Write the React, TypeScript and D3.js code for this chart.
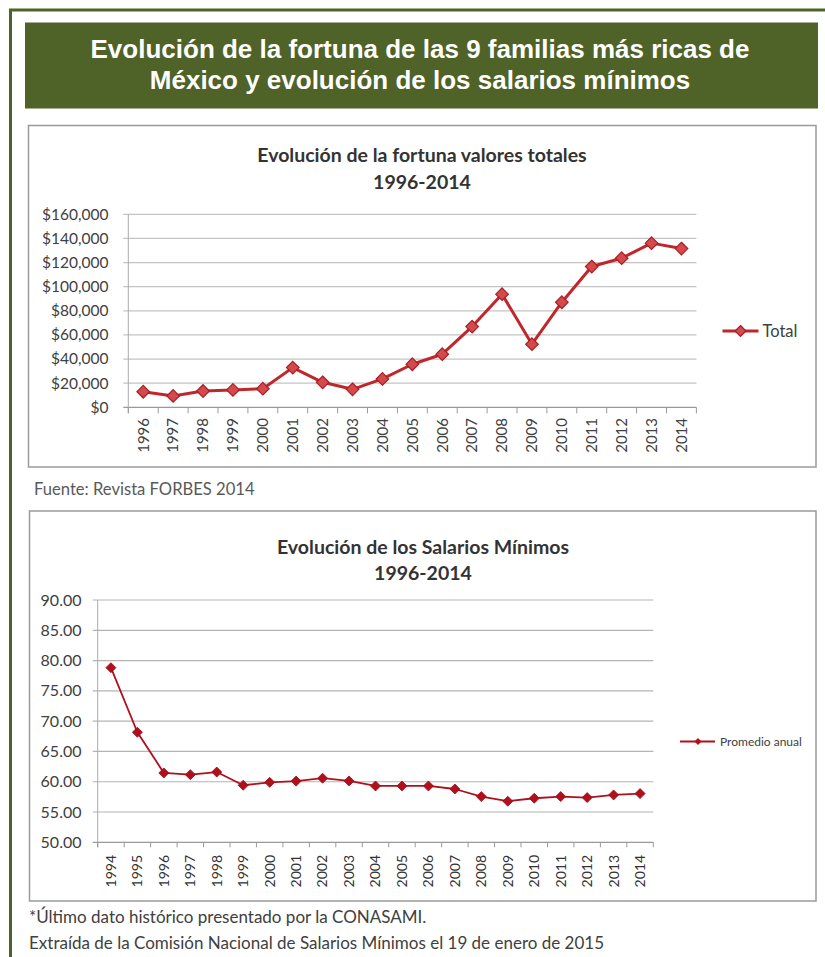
import React from 'react';
import * as d3 from 'd3';

const headerLines = [
  'Evolución de la fortuna de las 9 familias más ricas de',
  'México y evolución de los salarios mínimos',
];

const fortuneTitle = ['Evolución de la fortuna valores totales', '1996-2014'];
const fortuneYears = ['1996', '1997', '1998', '1999', '2000', '2001', '2002', '2003', '2004', '2005', '2006', '2007', '2008', '2009', '2010', '2011', '2012', '2013', '2014'];
const fortuneTotals = [12900, 9400, 13500, 14400, 15400, 32900, 20700, 14900, 23500, 35700, 44000, 66900, 93800, 52300, 87100, 116700, 123600, 136100, 131600];
const fortuneTicks = [0, 20000, 40000, 60000, 80000, 100000, 120000, 140000, 160000];
const fortuneLegend = 'Total';
const fortuneSource = 'Fuente: Revista FORBES 2014';

const wageTitle = ['Evolución de los Salarios Mínimos', '1996-2014'];
const wageYears = ['1994', '1995', '1996', '1997', '1998', '1999', '2000', '2001', '2002', '2003', '2004', '2005', '2006', '2007', '2008', '2009', '2010', '2011', '2012', '2013', '2014'];
const wageAverages = [78.83, 68.17, 61.45, 61.17, 61.6, 59.42, 59.9, 60.1, 60.58, 60.13, 59.3, 59.3, 59.3, 58.8, 57.55, 56.78, 57.27, 57.55, 57.38, 57.82, 58.04];
const wageTicks = [50, 55, 60, 65, 70, 75, 80, 85, 90];
const wageLegend = 'Promedio anual';
const footnotes = [
  '*Último dato histórico presentado por la CONASAMI.',
  'Extraída de la Comisión Nacional de Salarios Mínimos el 19 de enero de 2015',
];

const GREEN = '#4f6228';
const FONT = 'Lato, "Open Sans", sans-serif';
const diamond = (r: number) => `M0,${-r}L${r},0L0,${r}L${-r},0Z`;

function FortuneChart() {
  const x = d3.scaleBand<string>().domain(fortuneYears).range([128.3, 696.4]);
  const y = d3.scaleLinear().domain([0, 160000]).range([407.3, 214.3]);
  const fmt = d3.format('$,');
  const line = d3.line<number>()
    .x((_, i) => (x(fortuneYears[i]) as number) + x.bandwidth() / 2)
    .y((d) => y(d));
  const [x0, x1] = x.range();
  const bounds = fortuneYears.map((yr) => x(yr) as number).concat([x1]);
  return (
    <g>
      <rect x={28.5} y={125.5} width={787.5} height={341.5} fill="#fff" stroke="#9a9a9a" strokeWidth={1.5} />
      {fortuneTitle.map((t, i) => (
        <text key={t} x={422} y={162 + i * 27} textAnchor="middle" fontFamily={FONT} fontWeight={700} fontSize={19.5} fill="#333">{t}</text>
      ))}
      {fortuneTicks.map((t) => (
        <g key={t}>
          <line x1={x0 - 5} x2={x1} y1={y(t)} y2={y(t)} stroke={t === 0 ? '#999' : '#c4c4c4'} strokeWidth={1.2} />
          <text x={108.5} y={y(t)} dy="0.35em" textAnchor="end" fontFamily={FONT} fontSize={15.5} fill="#404040">{fmt(t)}</text>
        </g>
      ))}
      <line x1={x0} x2={x0} y1={y(160000)} y2={y(0) + 6} stroke="#aaa" strokeWidth={1} />
      {bounds.map((b, i) => (
        <line key={i} x1={b} x2={b} y1={y(0)} y2={y(0) + 6} stroke="#999" strokeWidth={1} />
      ))}
      {fortuneYears.map((yr) => (
        <text key={yr} transform={`translate(${(x(yr) as number) + x.bandwidth() / 2},418) rotate(-90)`} dy="0.35em" textAnchor="end" fontFamily={FONT} fontSize={15} fill="#404040">{yr}</text>
      ))}
      <path d={line(fortuneTotals) || ''} fill="none" stroke="#c0272d" strokeWidth={3} strokeLinejoin="round" />
      {fortuneTotals.map((v, i) => (
        <path key={i} d={diamond(6.3)} transform={`translate(${(x(fortuneYears[i]) as number) + x.bandwidth() / 2},${y(v)})`} fill="#d4494c" stroke="#a81e24" strokeWidth={1.2} />
      ))}
      <line x1={722.5} x2={758.5} y1={331} y2={331} stroke="#c0272d" strokeWidth={3} />
      <path d={diamond(5.5)} transform="translate(740.5,331)" fill="#d4494c" stroke="#a81e24" strokeWidth={1.2} />
      <text x={762.5} y={331} dy="0.35em" fontFamily={FONT} fontSize={16.5} fill="#404040">{fortuneLegend}</text>
    </g>
  );
}

function WageChart() {
  const x = d3.scaleBand<string>().domain(wageYears).range([97.7, 653.3]);
  const y = d3.scaleLinear().domain([50, 90]).range([842.3, 600]);
  const fmt = d3.format('.2f');
  const line = d3.line<number>()
    .x((_, i) => (x(wageYears[i]) as number) + x.bandwidth() / 2)
    .y((d) => y(d));
  const [x0, x1] = x.range();
  const bounds = wageYears.map((yr) => x(yr) as number).concat([x1]);
  return (
    <g>
      <rect x={29.5} y={511} width={786.5} height={390} fill="#fff" stroke="#9a9a9a" strokeWidth={1.5} />
      {wageTitle.map((t, i) => (
        <text key={t} x={423} y={554 + i * 25.5} textAnchor="middle" fontFamily={FONT} fontWeight={700} fontSize={19.5} fill="#333">{t}</text>
      ))}
      {wageTicks.map((t) => (
        <g key={t}>
          <line x1={x0 - 5} x2={x1} y1={y(t)} y2={y(t)} stroke={t === 50 ? '#999' : '#b4b4b4'} strokeWidth={1.2} />
          <text x={81.5} y={y(t)} dy="0.35em" textAnchor="end" fontFamily={FONT} fontSize={16} fill="#404040">{fmt(t)}</text>
        </g>
      ))}
      <line x1={x0} x2={x0} y1={y(90)} y2={y(50) + 5} stroke="#aaa" strokeWidth={1} />
      {bounds.map((b, i) => (
        <line key={i} x1={b} x2={b} y1={y(50)} y2={y(50) + 5} stroke="#999" strokeWidth={1} />
      ))}
      {wageYears.map((yr) => (
        <text key={yr} transform={`translate(${(x(yr) as number) + x.bandwidth() / 2},855) rotate(-90)`} dy="0.35em" textAnchor="end" fontFamily={FONT} fontSize={14} fill="#333">{yr}</text>
      ))}
      <path d={line(wageAverages) || ''} fill="none" stroke="#b0101c" strokeWidth={1.8} strokeLinejoin="round" />
      {wageAverages.map((v, i) => (
        <path key={i} d={diamond(5)} transform={`translate(${(x(wageYears[i]) as number) + x.bandwidth() / 2},${y(v)})`} fill="#b0101c" stroke="#9c0a14" strokeWidth={0.8} />
      ))}
      <line x1={680} x2={715} y1={741.5} y2={741.5} stroke="#b0101c" strokeWidth={1.8} />
      <path d={diamond(3.5)} transform="translate(698,741.5)" fill="#b0101c" />
      <text x={720} y={741.5} dy="0.35em" fontFamily={FONT} fontSize={12} fill="#404040">{wageLegend}</text>
    </g>
  );
}

export default function App() {
  return (
    <svg width={825} height={957} style={{ position: 'absolute', left: 0, top: 0, background: '#fff' }}>
      <rect x={0} y={0} width={825} height={957} fill="#fff" />
      <path d="M10.5,957V10H825" fill="none" stroke={GREEN} strokeWidth={3} />
      <rect x={25} y={22.5} width={793} height={86} fill={GREEN} />
      {headerLines.map((t, i) => (
        <text key={t} x={420} y={58 + i * 31} textAnchor="middle" fontFamily='"Liberation Sans", Arial, sans-serif' fontWeight={700} fontSize={26} fill="#fff">{t}</text>
      ))}
      <FortuneChart />
      <text x={34} y={495} fontFamily={FONT} fontSize={16.6} fill="#595959">{fortuneSource}</text>
      <WageChart />
      {footnotes.map((t, i) => (
        <text key={t} x={29} y={923 + i * 26} fontFamily={FONT} fontSize={17} fill="#404040">{t}</text>
      ))}
    </svg>
  );
}
